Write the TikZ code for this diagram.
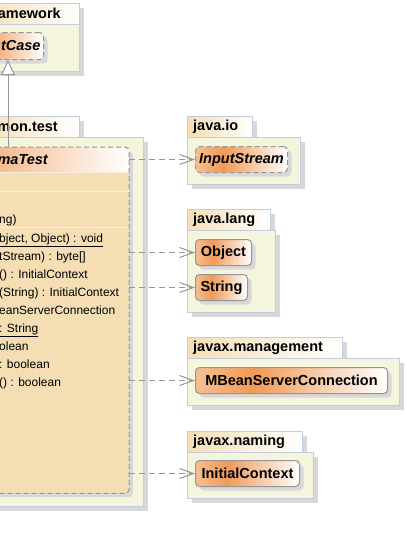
\documentclass[tikz,border=0pt]{standalone}
\usepackage{fontspec}
\setmainfont{Liberation Sans}
\usetikzlibrary{arrows.meta,shadows}

\definecolor{pkgfill}{RGB}{245,245,222}
\definecolor{pkgborder}{RGB}{196,204,224}
\definecolor{shadowgray}{RGB}{216,216,216}
\definecolor{tabwheat}{RGB}{245,222,179}
\definecolor{classbody}{RGB}{245,222,179}
\definecolor{orangelight}{RGB}{246,192,145}
\definecolor{orangedark}{RGB}{241,154,88}
\definecolor{nodegray}{RGB}{150,150,150}
\definecolor{linegray}{RGB}{150,150,150}
\definecolor{sepline}{RGB}{250,240,226}

\pgfdeclarehorizontalshading{classshade}{100bp}{color(0bp)=(orangelight); color(25bp)=(orangelight); color(40bp)=(orangedark); color(75bp)=(white); color(100bp)=(white)}

\tikzset{
  pkgbody/.style={draw=pkgborder, fill=pkgfill, line width=1pt},
  pkgtab/.style={draw=pkgborder, left color=tabwheat, right color=white, line width=1pt},
  pkgshadow/.style={fill=shadowgray},
  pkglabel/.style={font=\fontsize{14.5}{16}\selectfont\bfseries, inner sep=0pt},
  classnode/.style={draw=nodegray, line width=1pt, rounded corners=4pt, shading=classshade,
    minimum height=26pt, inner xsep=3pt, inner ysep=0pt, font=\fontsize{14.5}{16}\selectfont\bfseries,
    drop shadow={shadow xshift=4pt, shadow yshift=-4pt, fill=shadowgray, opacity=1}},
  abstractnode/.style={classnode, dash pattern=on 5pt off 3pt, font=\fontsize{14.5}{16}\selectfont\bfseries\itshape},
  method/.style={font=\fontsize{12}{14}\selectfont, inner sep=0pt},
  dependency/.style={draw=linegray, line width=1pt, dash pattern=on 6pt off 4pt, -{Straight Barb[length=14pt, width=10pt]}},
  generalization/.style={draw=linegray, line width=1pt, -{Triangle[length=15pt, width=14pt, fill=white]}}
}

\begin{document}
\begin{tikzpicture}[x=1pt, y=-1pt]
  \useasboundingbox[fill=white] (0,0) rectangle (407,549);

  % framework package
  \fill[pkgshadow] (-95,8) rectangle (84,76);
  \draw[pkgbody] (-100,24) rectangle (79,71);
  \draw[pkgtab] (-25,3) rectangle (79,24);
  \node[pkglabel, anchor=east] (fwlabel) at (61,13.5) {amework};

  % test package
  \fill[pkgshadow] (-155,121) rectangle (84,142);
  \fill[pkgshadow] (-155,142) rectangle (148,511);
  \draw[pkgbody] (-160,137) rectangle (143,506);
  \draw[pkgtab] (-25,116) rectangle (79,137);
  \node[pkglabel, anchor=east] (testlabel) at (58,127) {mon.test};

  % packages on the right
  \foreach \tabtop/\tabright/\bodyright/\bottom/\pname [count=\i] in
      {116/252/300/184/java.io, 209/270/275/312/java.lang,
       337/342/399/405/javax.management, 431/302/313/498/javax.naming} {
    \fill[pkgshadow] (192,\tabtop+5) rectangle (\tabright+5,\tabtop+26);
    \fill[pkgshadow] (192,\tabtop+26) rectangle (\bodyright+5,\bottom+5);
    \draw[pkgbody] (187,\tabtop+21) rectangle (\bodyright,\bottom);
    \draw[pkgtab] (187,\tabtop) rectangle (\tabright,\tabtop+21);
    \node[pkglabel, anchor=west] (pkg\i) at (193,\tabtop+10.5) {\pname};
  }

  % classes
  \node[abstractnode, anchor=north east, minimum height=27pt, text width=80pt, align=right] (testcase) at (44,32) {stCase};

  \node[abstractnode, anchor=north west, minimum width=92pt] (inputstream) at (195,146) {InputStream};
  \node[classnode, anchor=north west, minimum width=56pt] (object) at (195,239) {Object};
  \node[classnode, anchor=north west, minimum width=52pt] (string) at (195,274) {String};
  \node[classnode, anchor=north west, minimum width=192pt] (mbeanconn) at (195,367) {MBeanServerConnection};
  \node[classnode, anchor=north west, minimum width=104pt] (initialctx) at (195,460) {InitialContext};

  % the abstract test class
  \node[fill=classbody, minimum width=280pt, minimum height=346pt, inner sep=0pt, anchor=north east,
    rounded corners=4pt, drop shadow={shadow xshift=4pt, shadow yshift=-4pt, fill=shadowgray, opacity=1}]
    (schematest) at (129,147) {};
  \begin{scope}
    \clip (schematest.north west) rectangle (129,172);
    \path[shading=classshade, rounded corners=4pt] (schematest.north west) rectangle (129,200);
  \end{scope}
  \foreach \sy in {172,191,227}
    \draw[sepline, line width=1pt] (-151,\sy) -- (128.5,\sy);
  \draw[draw=nodegray, line width=1pt, dash pattern=on 5pt off 3pt, rounded corners=4pt]
    (schematest.south west) rectangle (schematest.north east);
  \node[font=\fontsize{14.5}{16}\selectfont\bfseries\itshape, anchor=east, inner sep=0pt] (schematitle) at (48,159.5) {maTest};

  \node[method, anchor=base west] (ctor) at (-1,223) {ng)};
  \foreach \txt [count=\i] in {{\underline{bject, Object) : void}}, {tStream) : byte[]},
      {() : InitialContext}, {(String) : InitialContext}, {eanServerConnection},
      {\underline{: String}}, {olean}, {: boolean}, {() : boolean}}
    \node[method, anchor=base west] (method\i) at (-1,242+18*\i-18) {\txt};

  % connectors
  \coordinate (genfoot) at (8,147);
  \draw[generalization] (genfoot) -- (genfoot |- testcase.south);
  \draw[dependency] (schematest.east |- inputstream.west) -- (inputstream.west);
  \draw[dependency] (schematest.east |- object.west) -- (object.west);
  \draw[dependency] (schematest.east |- string.west) -- (string.west);
  \draw[dependency] (schematest.east |- mbeanconn.west) -- (mbeanconn.west);
  \draw[dependency] (schematest.east |- initialctx.west) -- (initialctx.west);
\end{tikzpicture}
\end{document}
